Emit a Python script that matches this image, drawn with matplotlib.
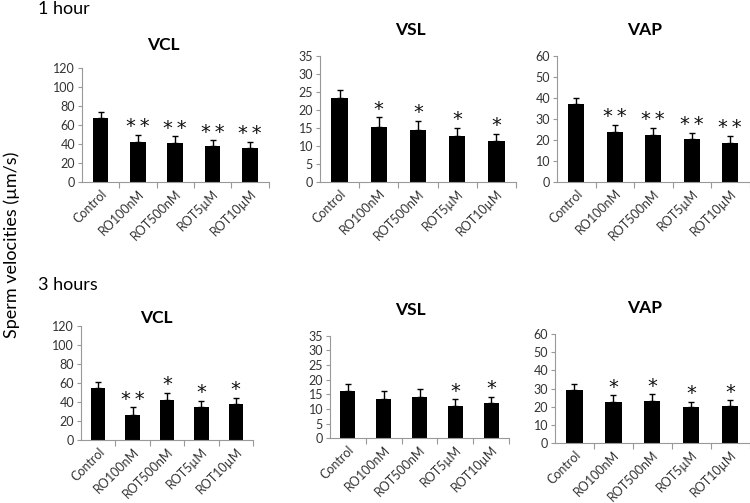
import matplotlib
matplotlib.use("Agg")
import matplotlib.pyplot as plt
import numpy as np

plt.rcParams['font.family'] = ['Lato', 'DejaVu Sans']

################## Datos ##################

groups = ["Control", "RO100nM", "ROT500nM", "ROT5\u00b5M", "ROT10\u00b5M"]

# 1 hora
vcl_1h = [67.5, 42.5, 41.0, 37.5, 36.0]
vcl_1h_err = [6.0, 7.5, 7.2, 6.2, 6.0]
vcl_1h_sig = ["", "**", "**", "**", "**"]

vsl_1h = [23.3, 15.3, 14.3, 12.8, 11.3]
vsl_1h_err = [2.3, 2.6, 2.6, 2.1, 2.0]
vsl_1h_sig = ["", "*", "*", "*", "*"]

vap_1h = [36.9, 23.8, 22.2, 20.3, 18.7]
vap_1h_err = [3.1, 3.4, 3.6, 3.0, 3.2]
vap_1h_sig = ["", "**", "**", "**", "**"]

# 3 horas
vcl_3h = [55.0, 26.5, 42.3, 34.7, 38.2]
vcl_3h_err = [6.3, 7.8, 7.5, 6.3, 6.0]
vcl_3h_sig = ["", "**", "*", "*", "*"]

vsl_3h = [16.3, 13.4, 14.1, 11.0, 12.0]
vsl_3h_err = [2.3, 2.7, 2.6, 2.3, 2.1]
vsl_3h_sig = ["", "", "", "*", "*"]

vap_3h = [29.2, 22.7, 23.3, 19.7, 20.6]
vap_3h_err = [3.1, 3.6, 3.6, 3.2, 3.0]
vap_3h_sig = ["", "*", "*", "*", "*"]

W, H = 750, 503

def px_axes(fig, x0, x1, ytop, ybot):
    # convierte un rectangulo en pixeles (y desde arriba) a coordenadas de figura
    return fig.add_axes([x0 / W, 1 - ybot / H, (x1 - x0) / W, (ybot - ytop) / H])

def bar_panel(ax, vals, errs, sig, ymax, ystep, title, title_xy):
    x = np.arange(len(groups))
    ax.bar(x, vals, width=0.42, color="black", zorder=2)
    ax.errorbar(x, vals, yerr=[np.zeros(len(errs)), errs], fmt="none",
                ecolor="black", elinewidth=1, capsize=2.5, capthick=1, zorder=3)
    for xi, v, e, s in zip(x, vals, errs, sig):
        if s:
            # separa los asteriscos con un espacio fino
            ax.annotate("\u2009".join(s), (xi, v + e), xytext=(0, -1),
                        textcoords="offset points", ha="center", va="bottom",
                        fontsize=14, color="#111111", family=['DejaVu Sans'])
    ax.set_xlim(-0.5, len(groups) - 0.5)
    ax.set_ylim(0, ymax)
    ax.set_yticks(np.arange(0, ymax + 0.1, ystep))
    ax.set_xticks(x)
    ax.set_xticklabels(groups, rotation=45, ha="right", rotation_mode="anchor", fontsize=9,
                       color="#333333")
    ax.set_xticks(np.arange(len(groups)) + 0.5, minor=True)
    ax.tick_params(axis="x", which="major", length=0, pad=4)
    ax.tick_params(axis="x", which="minor", length=4, color="#999999", width=0.8)
    ax.tick_params(axis="y", length=3, color="#999999", width=0.8, labelsize=9,
                   labelcolor="#333333", pad=2)
    for s in ["top", "right"]:
        ax.spines[s].set_visible(False)
    for s in ["left", "bottom"]:
        ax.spines[s].set_color("#999999")
        ax.spines[s].set_linewidth(0.8)
    ax.figure.text(title_xy[0] / W, 1 - title_xy[1] / H, title, ha="center", va="center",
                   fontsize=12.5, fontweight="bold")

fig = plt.figure(figsize=(7.5, 5.03), dpi=100)

ax = px_axes(fig, 82, 268.5, 68, 182)
bar_panel(ax, vcl_1h, vcl_1h_err, vcl_1h_sig, 120, 20, "VCL", (163, 45))
ax = px_axes(fig, 320, 516, 55.7, 181.7)
bar_panel(ax, vsl_1h, vsl_1h_err, vsl_1h_sig, 35, 5, "VSL", (410, 30))
ax = px_axes(fig, 557, 749.5, 56, 181.7)
bar_panel(ax, vap_1h, vap_1h_err, vap_1h_sig, 60, 10, "VAP", (645, 30))

ax = px_axes(fig, 81, 253, 325.7, 440)
bar_panel(ax, vcl_3h, vcl_3h_err, vcl_3h_sig, 120, 20, "VCL", (156, 318))
ax = px_axes(fig, 330, 509, 335.7, 438.3)
bar_panel(ax, vsl_3h, vsl_3h_err, vsl_3h_sig, 35, 5, "VSL", (410, 310))
ax = px_axes(fig, 555, 749.5, 334, 443.3)
bar_panel(ax, vap_3h, vap_3h_err, vap_3h_sig, 60, 10, "VAP", (645, 308))

fig.text(38 / W, 1 - 9 / H, "1 hour", ha="left", va="center", fontsize=13)
fig.text(38 / W, 1 - 285 / H, "3 hours", ha="left", va="center", fontsize=13)
fig.text(12 / W, 1 - 245 / H, "Sperm velocities (\u00b5m/s)", rotation=90,
         ha="center", va="center", fontsize=13)

fig.savefig("out.png", dpi=100)
